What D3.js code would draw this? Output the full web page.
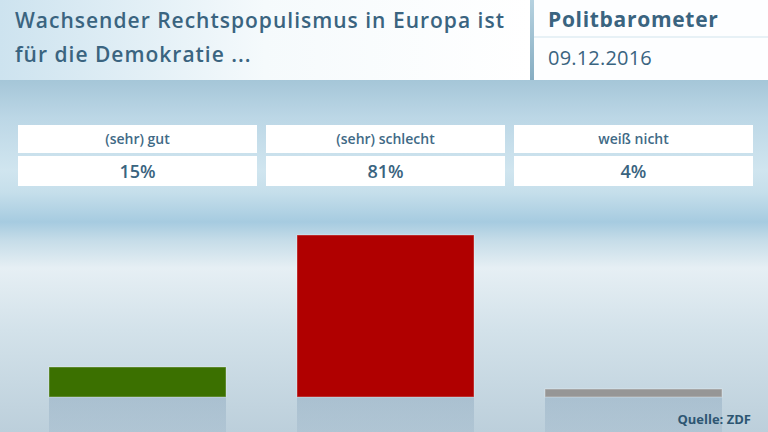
<!DOCTYPE html>
<html><head><meta charset="utf-8">
<script src="https://cdn.jsdelivr.net/npm/d3@7"></script>
<style>
html,body{margin:0;padding:0;background:#fff;}
svg{display:block;}
text{font-family:"Open Sans","Noto Sans",sans-serif;}
</style></head>
<body>
<svg id="chart" width="768" height="432"></svg>
<script>
const titleLines = ["Wachsender Rechtspopulismus in Europa ist", "für die Demokratie ..."];
const brand = "Politbarometer";
const dateLabel = "09.12.2016";
const categories = ["(sehr) gut", "(sehr) schlecht", "weiß nicht"];
const values = [15, 81, 4];
const barColors = ["#3b7000", "#b00000", "#969696"];
const valueLabels = ["15%", "81%", "4%"];
const source = "Quelle: ZDF";

const W = 768, H = 432;
const svg = d3.select("#chart");
const defs = svg.append("defs");

// background gradient
const bg = defs.append("linearGradient").attr("id","bg").attr("x1",0).attr("x2",0)
  .attr("gradientUnits","userSpaceOnUse").attr("y1",80).attr("y2",432);
[[80,"#a5c6d8"],[118,"#bcd7e6"],[170,"#d0e5ef"],[192,"#c6dfeb"],[222,"#a6cbe0"],[240,"#c5dce8"],[268,"#e6eff4"],[330,"#d3e2ea"],[432,"#bccfdb"]]
  .forEach(([yy,c])=>bg.append("stop").attr("offset",(yy-80)/352).attr("stop-color",c));
svg.append("rect").attr("width",W).attr("height",H).attr("fill","url(#bg)");

// header
const hg = defs.append("linearGradient").attr("id","hg").attr("x1",0).attr("x2",1).attr("y1",0).attr("y2",0);
hg.append("stop").attr("offset",0).attr("stop-color","#cde3ef");
hg.append("stop").attr("offset",0.5).attr("stop-color","#f5fafc");
hg.append("stop").attr("offset",1).attr("stop-color","#ffffff");
svg.append("rect").attr("x",0).attr("y",0).attr("width",530).attr("height",80).attr("fill","url(#hg)");
svg.append("rect").attr("x",534).attr("y",0).attr("width",234).attr("height",80).attr("fill","#fdfeff");
const sg = defs.append("linearGradient").attr("id","sg").attr("x1",0).attr("x2",0).attr("y1",0).attr("y2",1);
sg.append("stop").attr("offset",0).attr("stop-color","#b6d2e0");
sg.append("stop").attr("offset",1).attr("stop-color","#86adc2");
svg.append("rect").attr("x",530).attr("y",0).attr("width",4).attr("height",80).attr("fill","url(#sg)");
svg.append("rect").attr("x",534).attr("y",36).attr("width",234).attr("height",2).attr("fill","#e7f1f6");

const tColor = "#3a6480";
svg.append("g").selectAll("text").data(titleLines).join("text")
  .attr("x",15).attr("y",(d,i)=>28+i*34)
  .attr("font-size",21).attr("font-weight",600).attr("letter-spacing",1).attr("fill",tColor)
  .text(d=>d);
svg.append("text").attr("x",548).attr("y",27).attr("font-size",21).attr("font-weight",700)
  .attr("letter-spacing",0.7).attr("fill",tColor).text(brand);
svg.append("text").attr("x",548).attr("y",65).attr("font-size",20).attr("font-weight",400)
  .attr("letter-spacing",0.2).attr("fill",tColor).text(dateLabel);

// scales
const xBox = d3.scaleBand().domain(categories).range([18,753]).paddingInner(9/248).paddingOuter(0);
const y = d3.scaleLinear().domain([0,100]).range([397,197]);
const barInset = 31;

// label boxes
const boxes = svg.append("g").selectAll("g").data(categories).join("g")
  .attr("transform",d=>`translate(${xBox(d)},0)`);
boxes.append("rect").attr("y",125).attr("width",xBox.bandwidth()).attr("height",28).attr("fill","#ffffff");
boxes.append("rect").attr("y",156).attr("width",xBox.bandwidth()).attr("height",30).attr("fill","#ffffff");
boxes.append("text").attr("x",xBox.bandwidth()/2).attr("y",144).attr("text-anchor","middle")
  .attr("font-size",14).attr("font-weight",600).attr("fill","#3f6a86").text(d=>d);
boxes.append("text").attr("x",xBox.bandwidth()/2).attr("y",178).attr("text-anchor","middle")
  .attr("font-size",18).attr("font-weight",600).attr("fill","#3a6480").text((d,i)=>valueLabels[i]);

// reflections
const rg = defs.append("linearGradient").attr("id","rg").attr("x1",0).attr("x2",0).attr("y1",0).attr("y2",1);
rg.append("stop").attr("offset",0).attr("stop-color","#8aa6bd").attr("stop-opacity",0.45);
rg.append("stop").attr("offset",1).attr("stop-color","#8aa6bd").attr("stop-opacity",0.25);
svg.append("g").selectAll("rect").data(categories).join("rect")
  .attr("x",d=>xBox(d)+barInset).attr("y",y(0)).attr("width",xBox.bandwidth()-2*barInset)
  .attr("height",H-y(0)).attr("fill","url(#rg)");

// bars
svg.append("g").selectAll("rect").data(categories).join("rect")
  .attr("x",d=>xBox(d)+barInset).attr("y",(d,i)=>y(values[i]))
  .attr("width",xBox.bandwidth()-2*barInset).attr("height",(d,i)=>y(0)-y(values[i]))
  .attr("fill",(d,i)=>barColors[i])
  .attr("stroke","rgba(255,255,255,0.35)").attr("stroke-width",1);

svg.append("text").attr("x",751).attr("y",424).attr("text-anchor","end")
  .attr("font-size",13).attr("font-weight",700).attr("fill","#2d5672").text(source);
</script>
</body></html>
